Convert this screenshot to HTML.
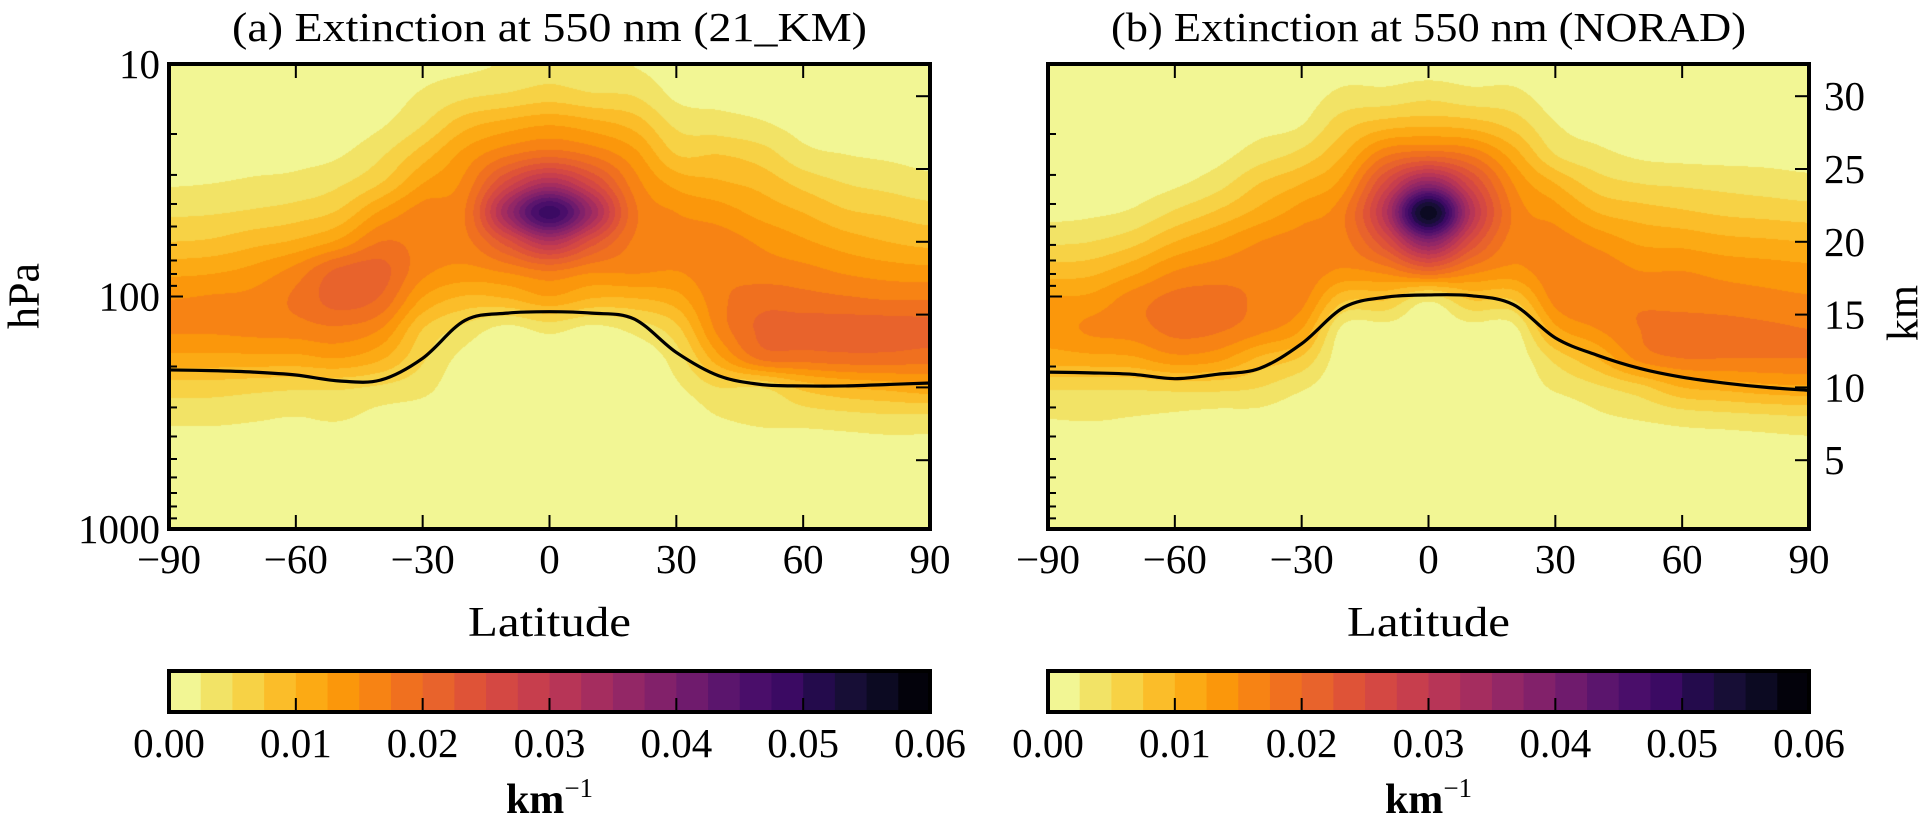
<!DOCTYPE html>
<html><head><meta charset="utf-8">
<style>
html,body{margin:0;padding:0;background:#fff;}
#root{position:relative;width:1925px;height:834px;overflow:hidden;font-family:"Liberation Serif",serif;}
canvas{position:absolute;}
svg{position:absolute;left:0;top:0;}
text{font-family:"Liberation Serif",serif;fill:#000;}
</style></head>
<body>
<div id="root">
<canvas id="cA"></canvas>
<canvas id="cB"></canvas>
<svg id="svg" width="1925" height="834" xmlns="http://www.w3.org/2000/svg"></svg>
</div>
<script>
// ---- data ----
const lats = [-90,-80,-70,-60,-50,-40,-30,-20,-10,0,10,20,30,40,50,60,70,80,90];
const altitudes = [0,2,4,6,8,10,12,14,16,18,20,22,24,26,28,30,32]; // km
// extinction values in 1e-3 km^-1, rows = latitude, cols = altitude
const extA = [
[0.8,0.8,0.8,1.25,3.3,6.25,11.7,15.4,15,11.7,7.5,4.6,2.3,1.5,1,0.8,0.8],
[0.8,0.8,0.8,1.25,3.3,6.25,11.7,15.4,15.4,12.1,7.9,4.8,2.5,1.5,1,0.8,0.8],
[0.8,0.8,0.8,1.25,2.9,5.8,11.7,15.8,15.8,13.3,9.2,5.4,2.9,1.7,1.1,0.8,0.8],
[0.8,0.8,0.8,1.25,2.5,5.4,11.7,16.25,18,16,10.4,6.25,3.3,1.8,1.25,0.8,0.8],
[0.8,0.8,0.8,0.8,2.9,5.4,12.5,17,21,20.5,13,7.9,4.6,2.25,1.25,1,0.8],
[0.8,0.8,0.8,0.8,1.7,4.6,10.4,15,19.5,21,17.5,12.9,7.5,4.6,2.25,1.25,0.8],
[0.8,0.8,0.8,0.8,1.25,3.3,5.4,7.5,12.1,15.8,16.7,16.25,12.5,8.75,5,2.9,1.7],
[0.8,0.8,0.8,0.8,0.8,0.8,1.7,4.2,9.2,14.2,16.7,17.5,15.8,13.3,9.2,4.6,2.1],
[0.8,0.8,0.8,0.8,0.8,0.8,0.8,1.7,9.6,15.5,24,35,26,17,11.25,5.5,2.8],
[0.8,0.8,0.8,0.8,0.8,0.8,0.8,3.3,11.7,17.5,32,49,33,19,12.5,6.5,3.8],
[0.8,0.8,0.8,0.8,0.8,0.8,0.8,1.7,9.6,15.5,24,35,26,17,11.25,5.5,2.8],
[0.8,0.8,0.8,0.8,0.8,0.8,0.8,3.3,9.6,15.4,17.1,18.3,16.25,13.3,9.2,5,2.5],
[0.8,0.8,0.8,0.8,0.8,2.1,3.75,6.7,11.25,15,16.25,15,11.7,7.5,4.6,2.1,1.25],
[0.8,0.8,0.8,0.8,2.5,5,11.7,15.8,16.7,16.7,16.25,13.75,10.4,7.5,3.75,1.7,0.8],
[0.8,0.8,0.8,1.25,3.3,5,18,20.5,19,16.25,14.6,11.7,9.2,6.25,2.9,1.5,0.8],
[0.8,0.8,0.8,1.25,3.75,8.3,18.5,21.2,18.5,15.8,12.9,10,6.7,3.3,1.7,1,0.8],
[0.8,0.8,0.8,1.5,4.2,10,19,21.4,18,14.6,11.25,7.9,5,2.5,1.25,0.8,0.8],
[0.8,0.8,0.8,1.7,4.6,10.8,19,21.4,17.5,13.75,10,7.1,4.2,2.1,1,0.8,0.8],
[0.8,0.8,0.8,1.7,4.6,11.7,18.5,21,17.5,13.3,9.2,6.25,3.3,1.7,1,0.8,0.8]
];
const extB = [
[0.8,0.8,0.8,0.8,2.7,5.4,11.25,13.75,12.9,8.75,4.6,1.8,1.25,0.8,0.8,0.8,0.8],
[0.8,0.8,0.8,0.8,2.9,5.4,11.7,15.4,13.3,9.2,5,2.1,1.25,0.8,0.8,0.8,0.8],
[0.8,0.8,0.8,0.8,2.5,5.4,12.1,16.25,16.25,11.7,6.7,2.9,1.3,1,0.8,0.8,0.8],
[0.8,0.8,0.8,0.8,2.1,5.8,14.2,18.3,18.3,15,10,5.4,2.1,1.25,0.8,0.8,0.8],
[0.8,0.8,0.8,0.8,1.7,5.8,13.3,17.9,18.3,16.25,12.5,7.9,4,1.7,1.1,0.8,0.8],
[0.8,0.8,0.8,0.8,1.7,5,9.6,15.8,17.1,16.7,15,10.8,7.5,3.75,1.7,1,0.8],
[0.8,0.8,0.8,0.8,0.8,2.9,7.1,12.5,15.8,16.7,16.25,13.75,10,5.8,2.5,1.25,0.8],
[0.8,0.8,0.8,0.8,0.8,0.8,0.8,1.7,7.9,14.6,16.7,17.1,13.75,10,6.7,3.3,1.5],
[0.8,0.8,0.8,0.8,0.8,0.8,0.8,1.5,7.5,16,25,32,26,17,9,3.5,1.5],
[0.8,0.8,0.8,0.8,0.8,0.8,0.8,0.8,3,20,38,57,37,19,9.6,4.4,1.5],
[0.8,0.8,0.8,0.8,0.8,0.8,0.8,1.5,7.5,16,25,32,26,17,9,3.5,1.5],
[0.8,0.8,0.8,0.8,0.8,0.8,0.8,1.7,7.5,14.2,16.25,17.1,15,11.25,6.7,3.3,1.5],
[0.8,0.8,0.8,0.8,0.8,2.9,5.8,11.7,15.8,16.7,16.25,13.75,10,5,2.7,1.25,0.8],
[0.8,0.8,0.8,0.8,2.1,4.6,10,15,17.1,16.7,14.2,10,6.25,3.2,1.5,1,0.8],
[0.8,0.8,0.8,0.8,2.9,6.7,15.8,17.5,17.1,15,12.1,8.75,5,2.1,1.1,0.8,0.8],
[0.8,0.8,0.8,1.25,3.75,10,17.5,18.3,16.7,15,11.7,7.9,4.6,1.8,1,0.8,0.8],
[0.8,0.8,0.8,1.25,4.2,10.8,17.5,18.3,16.25,14.2,10.8,7.1,4.2,1.7,1,0.8,0.8],
[0.8,0.8,0.8,1.5,4.6,11.7,17.5,17.9,15.8,13.75,10.4,6.7,3.75,1.7,0.9,0.8,0.8],
[0.8,0.8,0.8,1.7,5,12.1,17.5,17.5,15.4,13.3,10,6.25,3.3,1.5,0.9,0.8,0.8]
];
const tropoA = [11.2,11.15,11.05,10.85,10.45,10.5,12.0,14.6,15.1,15.2,15.1,14.7,12.4,10.8,10.2,10.1,10.1,10.2,10.3];
const tropoB = [11.05,11.0,10.9,10.6,10.9,11.3,13.0,15.5,16.2,16.35,16.3,15.7,13.4,12.2,11.3,10.7,10.3,10.0,9.8];
const levelStep = 2.5; // 1e-3 km^-1
const cbTicks = ["0.00","0.01","0.02","0.03","0.04","0.05","0.06"];
const latTicks = [-90,-60,-30,0,30,60,90];
const kmTicks = [5,10,15,20,25,30];
const presMajor = [10,100,1000];
const colors = ['#f2f694','#f2e366','#f7d245','#fbbd29','#fcaa14','#fb970b','#f78314','#f0701f','#e8632c','#df5337','#d44843','#c73e4d','#b73557','#a52d5f','#932766','#82216a','#6f1b6d','#5b156d','#4a0e6a','#3b0a63','#240b4c','#170e36','#0c0a22','#03020b'];

// ---- geometry ----
const panels = [
  {id:'a', x0:169, x1:930, ext:extA, tropo:tropoA, canvas:'cA', title:'(a) Extinction at 550 nm (21_KM)'},
  {id:'b', x0:1048, x1:1809, ext:extB, tropo:tropoB, canvas:'cB', title:'(b) Extinction at 550 nm (NORAD)'}
];
const Y0 = 64, Y1 = 529;
const kmZeroY = 533, pxPerKm = 14.56;
function xOf(p, lat){ return p.x0 + (lat+90)/180*(p.x1-p.x0); }
function yKm(km){ return kmZeroY - km*pxPerKm; }
function kmOfY(y){ return (kmZeroY - y)/pxPerKm; }
function yP(hpa){ return Y0 + (Math.log10(hpa)-1)/2*(Y1-Y0); }

function cr(p0,p1,p2,p3,t){
  const t2=t*t, t3=t2*t;
  return 0.5*((2*p1)+(-p0+p2)*t+(2*p0-5*p1+4*p2-p3)*t2+(-p0+3*p1-3*p2+p3)*t3);
}
function sample(ext, lat, km){
  let fi = (lat - lats[0])/(lats[1]-lats[0]);
  let fk = (km - altitudes[0])/(altitudes[1]-altitudes[0]);
  const NI = lats.length, NK = altitudes.length;
  fi = Math.max(0, Math.min(NI-1.0001, fi));
  fk = Math.max(0, Math.min(NK-1.0001, fk));
  const i = Math.floor(fi), k = Math.floor(fk), u = fi-i, v = fk-k;
  const col = [];
  for(let di=-1; di<=2; di++){
    const ii = Math.max(0, Math.min(NI-1, i+di));
    const r = ext[ii];
    const k0=Math.max(0,k-1), k3=Math.min(NK-1,k+2);
    col.push(cr(r[k0], r[k], r[k+1], r[k3], v));
  }
  return Math.max(0, cr(col[0],col[1],col[2],col[3],u));
}
function hexRgb(h){ return [parseInt(h.substr(1,2),16),parseInt(h.substr(3,2),16),parseInt(h.substr(5,2),16)]; }
const rgb = colors.map(hexRgb);

// ---- draw fields ----
panels.forEach(p=>{
  const c = document.getElementById(p.canvas);
  const w = p.x1-p.x0, h = Y1-Y0;
  c.width = w; c.height = h;
  c.style.left = p.x0+'px'; c.style.top = Y0+'px';
  const ctx = c.getContext('2d');
  const img = ctx.createImageData(w,h);
  for(let py=0; py<h; py++){
    const km = kmOfY(Y0+py+0.5);
    for(let px=0; px<w; px++){
      const lat = -90 + (px+0.5)/w*180;
      const val = sample(p.ext, lat, km);
      let b = Math.floor(val/levelStep);
      b = Math.max(0, Math.min(colors.length-1, b));
      const o = (py*w+px)*4, col = rgb[b];
      img.data[o]=col[0]; img.data[o+1]=col[1]; img.data[o+2]=col[2]; img.data[o+3]=255;
    }
  }
  ctx.putImageData(img,0,0);
});

// ---- SVG overlay ----
const svg = document.getElementById('svg');
const NS = 'http://www.w3.org/2000/svg';
function mk(tag, attrs, parent){
  const e = document.createElementNS(NS, tag);
  for(const k in attrs) e.setAttribute(k, attrs[k]);
  (parent||svg).appendChild(e); return e;
}
function txt(s, x, y, size, anchor, parent){
  const t = mk('text', {x:x, y:y, 'font-size':size, 'text-anchor':anchor||'middle', 'dominant-baseline':'central'}, parent);
  t.textContent = s; return t;
}

panels.forEach((p, pi)=>{
  const g = mk('g', {});
  
  

  const pts = lats.map((lat,i)=>[xOf(p,lat), yKm(p.tropo[i])]);
  let d = 'M'+pts[0][0]+','+pts[0][1];
  for(let i=0;i<pts.length-1;i++){
    const p0 = pts[Math.max(0,i-1)], p1 = pts[i], p2 = pts[i+1], p3 = pts[Math.min(pts.length-1,i+2)];
    const c1 = [p1[0]+(p2[0]-p0[0])/6, p1[1]+(p2[1]-p0[1])/6];
    const c2 = [p2[0]-(p3[0]-p1[0])/6, p2[1]-(p3[1]-p1[1])/6];
    d += ' C'+c1[0]+','+c1[1]+' '+c2[0]+','+c2[1]+' '+p2[0]+','+p2[1];
  }
  const tl = mk('path', {d:d, fill:'none', stroke:'#000', 'stroke-width':3.2}, g);
  
  

  const tk = mk('g', {stroke:'#000', 'stroke-width':2}, g);
  
  
  latTicks.forEach(lat=>{
    const x = xOf(p,lat);
    mk('line', {x1:x, x2:x, y1:Y0, y2:Y0+14}, tk);
    mk('line', {x1:x, x2:x, y1:Y1, y2:Y1-14}, tk);
  });
  for(let dec=10; dec<1000; dec*=10){
    for(let m=1; m<10; m++){
      const v = dec*m;
      if(v<=10) continue;
      const y = yP(v);
      const len = (m===1)?14:8;
      mk('line', {x1:p.x0, x2:p.x0+len, y1:y, y2:y}, tk);
    }
  }
  kmTicks.forEach(km=>{
    const y = yKm(km);
    mk('line', {x1:p.x1, x2:p.x1-14, y1:y, y2:y}, tk);
  });

  const fr = mk('rect', {x:p.x0, y:Y0, width:p.x1-p.x0, height:Y1-Y0, fill:'none', stroke:'#000', 'stroke-width':4}, g);
  
  

  const cx = (p.x0+p.x1)/2;
  const tt = txt(p.title, cx, 27, 41, 'middle', g);
  tt.setAttribute('textLength', '635');
  tt.setAttribute('lengthAdjust', 'spacingAndGlyphs');
  
  

  latTicks.forEach(lat=>{
    const lab = txt((lat<0?'\u2212':'')+Math.abs(lat), xOf(p,lat), 559, 41, 'middle', g);
    
    
  });
  const xl = txt('Latitude', cx, 623, 42, 'middle', g);
  xl.setAttribute('textLength', '163');
  xl.setAttribute('lengthAdjust', 'spacingAndGlyphs');
  
  

  const cb = mk('g', {}, g);
  
  
  const cbY0 = 671, cbY1 = 712, n = colors.length, cw = (p.x1-p.x0)/n;
  colors.forEach((col,i)=>{
    const r = mk('rect', {x:p.x0+i*cw, y:cbY0, width:cw+0.6, height:cbY1-cbY0, fill:col}, cb);
    
    
  });
  cbTicks.forEach((s,i)=>{
    const x = p.x0 + i/(cbTicks.length-1)*(p.x1-p.x0);
    if(i>0 && i<cbTicks.length-1) mk('line', {x1:x, x2:x, y1:cbY1, y2:cbY1-14, stroke:'#000', 'stroke-width':2}, cb);
    const lab = txt(s, x, 743, 41, 'middle', cb);
    
    
  });
  mk('rect', {x:p.x0, y:cbY0, width:p.x1-p.x0, height:cbY1-cbY0, fill:'none', stroke:'#000', 'stroke-width':4}, cb);
  const unit = mk('text', {x:cx, y:813, 'font-size':42, 'text-anchor':'middle', 'font-weight':'bold'}, cb);
  
  
  unit.innerHTML = 'km<tspan dy="-16" font-size="27" font-weight="normal">\u22121</tspan>';
});

presMajor.forEach(v=>{
  const lab = txt(String(v), 160, yP(v), 41, 'end');
  
  
});
const yl = mk('text', {x:0, y:0, 'font-size':44, 'text-anchor':'middle', 'dominant-baseline':'central', transform:'translate(24,296) rotate(-90)'});
yl.textContent = 'hPa';


kmTicks.forEach(km=>{
  const lab = txt(String(km), 1824, yKm(km), 41, 'start');
  
  
});
const yr = mk('text', {x:0, y:0, 'font-size':44, 'text-anchor':'middle', 'dominant-baseline':'central', transform:'translate(1903,313) rotate(-90)'});
yr.textContent = 'km';


</script>
</body></html>
